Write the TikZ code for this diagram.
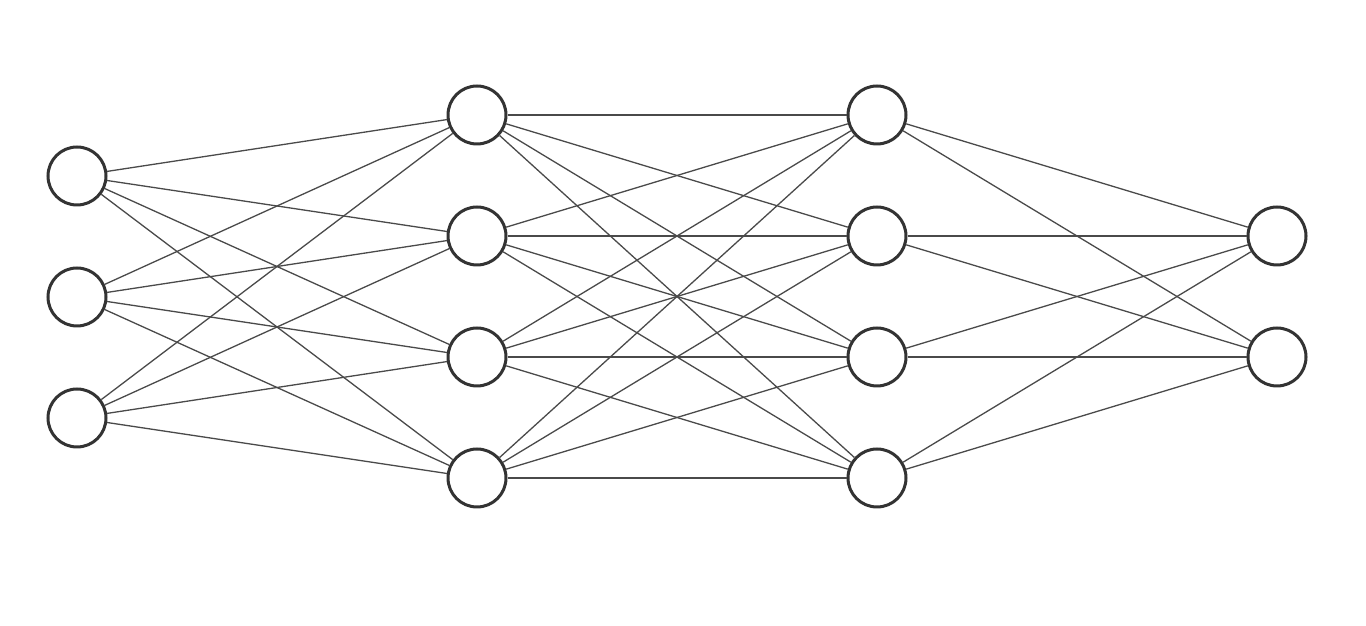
\documentclass[tikz,border=0pt]{standalone}
\usepackage{tikz}
\usetikzlibrary{positioning}

\definecolor{unitgray}{HTML}{333333}
\definecolor{wiregray}{HTML}{4A4A4A}

\begin{document}
\begin{tikzpicture}[x=1pt,y=1pt,unit/.style={circle,minimum size=29pt,inner sep=0pt,outer sep=0.75pt,line width=1.5pt,fill=white,draw=unitgray},
wire/.style={draw=wiregray,line width=0.65pt}]

\useasboundingbox (0,0) rectangle (683,313);

% input layer
\node[unit] (i1) at (38.5,225) {};
\node[unit,below=30pt of i1] (i2) {};
\node[unit,below=30pt of i2] (i3) {};

% first hidden layer
\node[unit] (h1) at (238.5,255.5) {};
\node[unit,below=30pt of h1] (h2) {};
\node[unit,below=30pt of h2] (h3) {};
\node[unit,below=30pt of h3] (h4) {};

% second hidden layer
\node[unit] (g1) at (438.5,255.5) {};
\node[unit,below=30pt of g1] (g2) {};
\node[unit,below=30pt of g2] (g3) {};
\node[unit,below=30pt of g3] (g4) {};

% output layer
\node[unit] (o1) at (638.5,195) {};
\node[unit,below=30pt of o1] (o2) {};

% edges
\foreach \a in {i1,i2,i3}
  \foreach \b in {h1,h2,h3,h4}
    \draw[wire] (\a) -- (\b);
\foreach \a in {h1,h2,h3,h4}
  \foreach \b in {g1,g2,g3,g4}
    \draw[wire] (\a) -- (\b);
\foreach \a in {g1,g2,g3,g4}
  \foreach \b in {o1,o2}
    \draw[wire] (\a) -- (\b);
\end{tikzpicture}
\end{document}
